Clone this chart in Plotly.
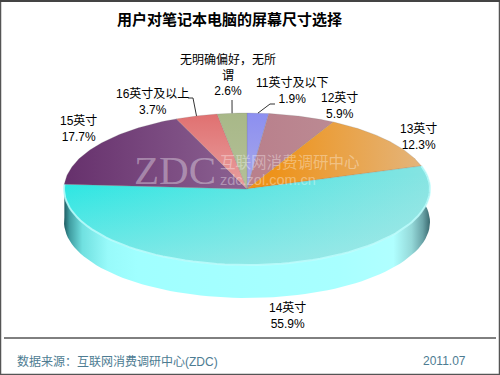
import numpy as np
import plotly.graph_objects as go

categories = ["11英寸及以下", "12英寸", "13英寸", "14英寸", "15英寸", "16英寸及以上", "无明确偏好，无所<br>谓"]
values = [1.9, 5.9, 12.3, 55.9, 17.7, 3.7, 2.6]
title_text = "用户对笔记本电脑的屏幕尺寸选择"
source_text = "数据来源：互联网消费调研中心(ZDC)"
date_text = "2011.07"

# gradient (type, start, stop, colours) per slice
grads = [
    ("vertical", 113, 189, "#8c8ff0", "#a9a9e8"),
    ("horizontal", 255, 350, "#b9808c", "#bc8c94"),
    ("horizontal", 270, 420, "#ee9218", "#e4b47a"),
    ("horizontal", 64, 430, "#24e6e2", "#86e4e2"),
    ("horizontal", 64, 247, "#66306c", "#8c6292"),
    ("vertical", 113, 189, "#e07070", "#e8a0a0"),
    ("vertical", 113, 189, "#a8b888", "#b4c098"),
]
overlay_14 = "rgba(190,235,235,0.55)"
side_stops = [[0, "#1e5a60"], [0.015, "#3f9ca0"], [0.05, "#70e0e0"], [0.12, "#98fafa"], [0.2, "#a0ffff"],
              [0.75, "#a8ffff"], [0.9, "#b0ffff"], [0.95, "#94d8d8"], [0.98, "#6aa4a8"], [1, "#3a6a70"]]

cx, cy, rx, ry, depth = 247, 189, 183, 76, 33
fracs = np.cumsum([0] + values) / sum(values) * 2 * np.pi

def arc(a, b, n=80):
    t = np.linspace(a, b, n)
    return cx + rx * np.sin(t), cy - ry * np.cos(t)

fig = go.Figure()

# side wall of the front-facing slice
x1, y1 = arc(fracs[3], fracs[4])
fig.add_trace(go.Scatter(
    x=np.r_[x1, x1[::-1]], y=np.r_[y1, y1[::-1] + depth], fill="toself", mode="lines", line=dict(width=0),
    fillgradient=dict(type="horizontal", colorscale=side_stops, start=cx - rx, stop=cx + rx),
    hoverinfo="skip", showlegend=False))

# top faces
for i, (name, g) in enumerate(zip(categories, grads)):
    x, y = arc(fracs[i], fracs[i + 1])
    fig.add_trace(go.Scatter(
        x=np.r_[cx, x, cx], y=np.r_[cy, y, cy], fill="toself", mode="lines",
        line=dict(width=0.6, color="rgba(120,120,120,0.35)"),
        fillgradient=dict(type=g[0], colorscale=[[0, g[3]], [1, g[4]]], start=g[1], stop=g[2]),
        name=name, hoverinfo="skip", showlegend=False))
    if i == 3:
        fig.add_trace(go.Scatter(
            x=np.r_[cx, x, cx], y=np.r_[cy, y, cy], fill="toself", mode="lines", line=dict(width=0),
            fillgradient=dict(type="vertical", colorscale=[[0, "rgba(190,235,235,0)"], [1, overlay_14]],
                              start=175, stop=265),
            hoverinfo="skip", showlegend=False))
        # soft bevel along the front rim
        fig.add_trace(go.Scatter(x=x, y=y, mode="lines", line=dict(color="rgba(190,255,255,0.8)", width=2),
                                 hoverinfo="skip", showlegend=False))

# leader lines
leaders = {0: [(270, 104), (275, 104)], 5: [(193, 98), (188, 98)], 6: [(232, 100)]}
for i, pts in leaders.items():
    mid = (fracs[i] + fracs[i + 1]) / 2
    xs = [cx + rx * np.sin(mid)] + [p[0] for p in pts]
    ys = [cy - ry * np.cos(mid)] + [p[1] for p in pts]
    fig.add_trace(go.Scatter(x=xs, y=ys, mode="lines", line=dict(color="#333333", width=1),
                             hoverinfo="skip", showlegend=False))

font = "Liberation Sans, Noto Sans CJK SC, sans-serif"
label_pos = [(292, 91), (339, 106), (418, 137), (287, 316), (78, 129), (152, 102), (228, 75)]
annotations = []
for c, v, (lx, ly) in zip(categories, values, label_pos):
    annotations.append(dict(x=lx, y=ly, xref="x", yref="y", text=f"{c}<br>{v}%", showarrow=False,
                            align="center", font=dict(family=font, size=12, color="#000000")))

def txt(x, y, s, size, color, anchor="left", family=font, **kw):
    annotations.append(dict(x=x, y=y, xref="x", yref="y", text=s, showarrow=False, xanchor=anchor, yanchor="middle",
                            font=dict(family=family, size=size, color=color, **kw)))

txt(115, 18, f"<b>{title_text}</b>", 15, "#000000", family="Noto Sans CJK SC, sans-serif")
txt(15, 361, source_text, 12, "#4d7c92")
txt(421, 361, date_text, 12, "#4d7c92")
txt(132, 170, "ZDC", 41, "rgba(255,255,255,0.36)", family="Liberation Serif, serif")
txt(218, 162, "互联网消费调研中心", 15.5, "rgba(255,255,255,0.36)")
txt(218, 180, "zdc.zol.com.cn", 14.5, "rgba(255,255,255,0.36)")

shapes = [
    dict(type="rect", xref="x", yref="y", x0=0.5, y0=0.5, x1=499.5, y1=374.5, line=dict(color="#555555", width=1.5)),
    dict(type="line", xref="x", yref="y", x0=0, x1=500, y0=1, y1=1, line=dict(color="#444444", width=2)),
    dict(type="line", xref="x", yref="y", x0=4, x1=496, y0=338, y1=338, line=dict(color="#000000", width=1)),
]

fig.update_layout(
    width=500, height=375, margin=dict(l=0, r=0, t=0, b=0), paper_bgcolor="white", plot_bgcolor="white",
    xaxis=dict(range=[0, 500], visible=False, fixedrange=True),
    yaxis=dict(range=[375, 0], visible=False, fixedrange=True),
    annotations=annotations, shapes=shapes, showlegend=False)

fig.write_html("out.html", config=dict(displayModeBar=False),
               post_script="document.body.style.margin='0';document.documentElement.style.overflow='hidden';")
